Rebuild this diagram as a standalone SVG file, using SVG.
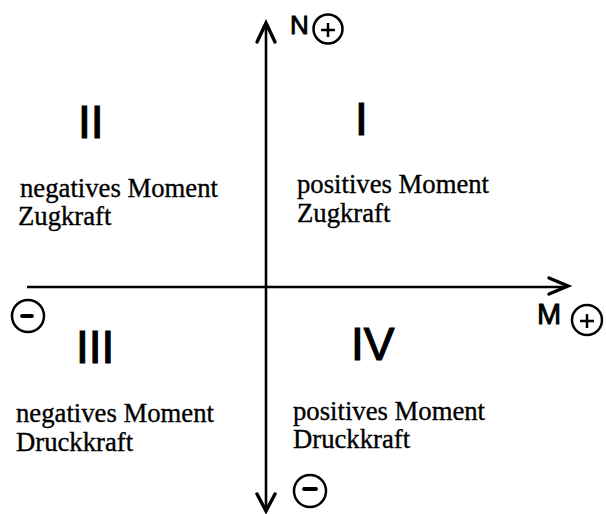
<svg xmlns="http://www.w3.org/2000/svg" width="606" height="514" viewBox="0 0 606 514">
<style>
.ax{stroke:#000;stroke-width:2.6;fill:none}
.ah{stroke:#000;stroke-width:3.4;fill:none;stroke-linecap:round;stroke-linejoin:miter}
.sym{stroke:#000;stroke-width:2.5;fill:none}
.bar{stroke:#000;stroke-width:3.8;fill:none;stroke-linecap:round}
.num{font-family:"Liberation Sans",Arial,sans-serif;font-size:46px;fill:#000;stroke:#000;stroke-width:1.2}
.lab{font-family:"Liberation Sans",Arial,sans-serif;fill:#000;stroke:#000;stroke-width:0.9}
.txt{font-family:"Liberation Serif","Times New Roman",serif;font-size:26.7px;fill:#000;stroke:#000;stroke-width:0.35}
</style>
<rect width="606" height="514" fill="#fff"/>
<g id="connectors">
<line class="ax" x1="266" y1="24" x2="266" y2="511"/>
<polyline class="ah" points="257,42 266,23 275,42"/>
<polyline class="ah" points="257,494 266,511 275,494"/>
<line class="ax" x1="27" y1="287" x2="567" y2="287"/>
<polyline class="ah" points="549,278 568,286 549,294"/>
</g>
<g id="axis-N">
<text class="lab" x="290" y="34" font-size="26">N</text>
<circle class="sym" cx="328" cy="29" r="14.5"/>
<path class="sym" d="M321,30H335M328,23V37" stroke-width="2.8"/>
</g>
<g id="axis-M">
<text class="lab" x="537" y="324" font-size="29">M</text>
<circle class="sym" cx="587" cy="320" r="15"/>
<path class="sym" d="M580,321H594M587,314V328" stroke-width="2.8"/>
</g>
<g id="axis-minus-left">
<circle class="sym" cx="28" cy="316" r="16"/>
<line class="bar" x1="22" y1="316" x2="32" y2="316"/>
</g>
<g id="axis-minus-bottom">
<circle class="sym" cx="310" cy="491" r="16"/>
<line class="bar" x1="304" y1="489" x2="316" y2="489"/>
</g>
<g id="quadrant-I">
<text class="num" x="355" y="135">I</text>
<text class="txt" x="297" y="193">positives Moment</text>
<text class="txt" x="297" y="222">Zugkraft</text>
</g>
<g id="quadrant-II">
<text class="num" x="78" y="138">II</text>
<text class="txt" x="20" y="197">negatives Moment</text>
<text class="txt" x="18" y="225">Zugkraft</text>
</g>
<g id="quadrant-III">
<text class="num" x="76" y="363">III</text>
<text class="txt" x="16" y="422">negatives Moment</text>
<text class="txt" x="16" y="451">Druckkraft</text>
</g>
<g id="quadrant-IV">
<text class="num" x="351" y="360">IV</text>
<text class="txt" x="293" y="420">positives Moment</text>
<text class="txt" x="293" y="448">Druckkraft</text>
</g>
</svg>
